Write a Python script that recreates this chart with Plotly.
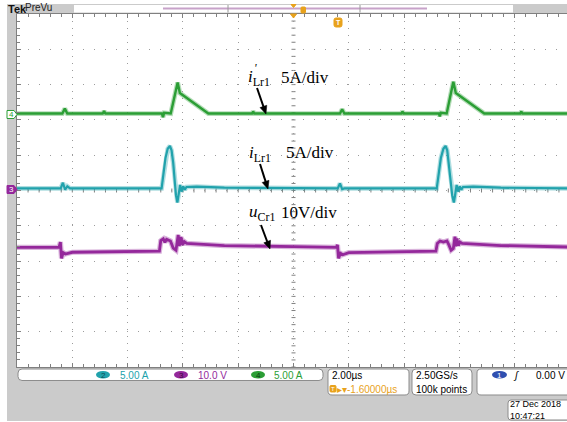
import math
import plotly.graph_objects as go

# ---------------- acquisition data ----------------
# Timebase: 2 us/div, trigger at the screen centre (t = 0 us)
time_per_div = 2.0

# Vertical scale per division and trace position (divisions above screen centre)
ch4_scale, ch4_pos = 5.0, 2.18     # i'Lr1  (A/div)
ch2_scale, ch2_pos = 5.0, 0.06     # iLr1   (A/div)
ch3_scale, ch3_pos = 10.0, -1.66   # uCr1   (V/div)

# CH4 (green): i'Lr1 in A
t_ch4 = [-10.0, -8.36, -8.27, -8.18, -6.9, -6.85, -6.8, -4.76, -4.72, -4.68, -4.44,
         -4.19, -4.11, -3.08, -1.5, -1.46, -1.42, 1.68, 1.76, 1.84, 3.9, 3.94, 3.98,
         5.26, 5.29, 5.33, 5.54, 5.78, 5.87, 6.90, 8.2, 8.24, 8.28, 9.9]
i_ch4 = [0.0, 0.0, 0.7, 0.0, 0.0, 0.35, 0.0, 0.0, -0.5, 0.1, 0.0,
         4.4, 2.9, 0.0, 0.0, 0.3, 0.0, 0.0, 0.6, 0.0, 0.0, 0.3, 0.0,
         0.0, -0.4, 0.1, 0.0, 4.5, 2.9, 0.0, 0.0, 0.3, 0.0, 0.0]

# CH2 (cyan): iLr1 in A
t_ch2 = [-10.0, -8.42, -8.34, -8.26, -8.18, -8.08, -4.77, -4.70, -4.63, -4.55, -4.47,
         -4.41, -4.35, -4.29, -4.25, -4.20, -4.15, -4.10, -4.05, -3.99, -3.93, -3.87,
         -3.5, -2.5, 1.60, 1.68, 1.76, 1.84, 5.18, 5.25, 5.33, 5.42, 5.50, 5.56, 5.62,
         5.69, 5.74, 5.80, 5.85, 5.90, 5.95, 6.01, 6.07, 6.13, 6.5, 7.5, 9.9]
i_ch2 = [0.0, 0.0, 0.8, -0.2, 0.3, 0.0, 0.0, 2.2, 4.3, 5.6, 6.0,
         5.4, 3.6, 0.8, -1.0, -2.0, -0.8, 0.5, -0.45, 0.3, -0.2, 0.2,
         0.25, 0.1, 0.0, 0.7, -0.1, 0.0, 0.0, 2.2, 4.3, 5.6, 6.0, 5.4, 3.6,
         0.8, -1.0, -2.0, -0.8, 0.5, -0.45, 0.3, -0.2, 0.2, 0.25, 0.1, 0.0]

# CH3 (purple): uCr1 in V
t_ch3 = [-10.0, -8.48, -8.43, -8.39, -8.33, -8.25, -8.0, -6.0, -4.85, -4.80, -4.71,
         -4.65, -4.59, -4.45, -4.35, -4.25, -4.17, -4.13, -4.07, -4.01, -3.95, -3.86,
         -2.5, 0.0, 1.55, 1.59, 1.63, 1.70, 1.78, 2.0, 4.0, 5.15, 5.20, 5.30, 5.42,
         5.55, 5.62, 5.70, 5.78, 5.84, 5.87, 5.91, 5.96, 6.02, 6.10, 7.5, 9.9]
u_ch3 = [0.5, 0.5, 2.0, -2.6, -1.0, -1.4, -0.9, -0.7, -0.6, 2.4, 2.9,
         1.9, 2.8, 2.3, 0.3, -0.3, 4.0, 0.9, 3.4, 1.2, 2.1, 1.6,
         1.0, 0.7, 0.5, 1.2, -2.6, -1.2, -1.6, -1.0, -0.7, -0.6, 1.6, 2.3, 2.0,
         2.3, 1.2, -0.3, 0.2, 3.5, 0.8, 3.0, 1.0, 2.0, 1.6, 1.0, 0.6]

# Channel readouts
readout_ch2 = "5.00 A"
readout_ch3 = "10.0 V"
readout_ch4 = "5.00 A"
readout_timebase = "2.00µs"
readout_delay = "▸▾-1.60000µs"
readout_rate = "2.50GS/s"
readout_points = "100k points"
readout_trigger = "0.00 V"
readout_date = "27 Dec 2018"
readout_time = "10:47:21"

# ---------------- screen geometry ----------------
W, H = 567, 422
ML, MR, MT, MB = 17, 0, 14, 55
PW, PH = W - ML - MR, H - MT - MB
div_px = 55.3                      # horizontal pixels per division
vdiv_px = PH / 10.0                # vertical pixels per division
x_lo = -5 * time_per_div
x_hi = x_lo + PW / div_px * time_per_div

GREEN = "#2b9e35"
CYAN = "#21a2ac"
PURPLE = "#94289b"
ORANGE = "#e8a21c"
PANEL = "#cbcbcb"
GRID = "#9c9c9c"
EDGE = "#808080"


def px(x):
    return (x - ML) / PW


def py(y):
    return (H - MB - y) / PH


def rbox(x0, y0, x1, y1, r=3.0):
    pts = [("M", x0 + r, y0), ("L", x1 - r, y0), ("Q", x1, y0, x1, y0 + r),
           ("L", x1, y1 - r), ("Q", x1, y1, x1 - r, y1), ("L", x0 + r, y1),
           ("Q", x0, y1, x0, y1 - r), ("L", x0, y0 + r), ("Q", x0, y0, x0 + r, y0)]
    out = []
    for p in pts:
        cmd, vals = p[0], p[1:]
        coords = []
        for i in range(0, len(vals), 2):
            coords.append(f"{px(vals[i]):.5f},{py(vals[i + 1]):.5f}")
        out.append(cmd + " " + " ".join(coords))
    return " ".join(out) + " Z"


def poly(points):
    return "M " + " L ".join(f"{px(a):.5f},{py(b):.5f}" for a, b in points) + " Z"


fig = go.Figure()

# waveforms, each on its own channel axis; a faint wider stroke underneath
# gives the persistence "glow" of the scope display
channels = [(t_ch4, i_ch4, "y2", GREEN, 2.4),
            (t_ch2, i_ch2, "y3", CYAN, 2.2),
            (t_ch3, u_ch3, "y4", PURPLE, 2.8)]
for t, v, ya, col, w in channels:
    fig.add_trace(go.Scatter(x=t, y=v, mode="lines", yaxis=ya, opacity=0.35,
                             line=dict(color=col, width=w + 2.4), hoverinfo="skip"))
    fig.add_trace(go.Scatter(x=t, y=v, mode="lines", yaxis=ya,
                             line=dict(color=col, width=w), hoverinfo="skip"))


def chan_axis(scale, pos):
    return dict(overlaying="y", visible=False, anchor="x",
                range=[(-5 - pos) * scale, (5 - pos) * scale])


fig.update_layout(
    width=W, height=H, autosize=False, template="none",
    margin=dict(l=ML, r=MR, t=MT, b=MB, pad=0),
    paper_bgcolor="white", plot_bgcolor="white", showlegend=False,
    xaxis=dict(range=[x_lo, x_hi], dtick=time_per_div, tick0=0,
               showgrid=True, gridcolor=GRID, gridwidth=1, griddash="1px,6px",
               zeroline=False, showline=True, linecolor=EDGE, linewidth=1, mirror="ticks",
               ticks="inside", ticklen=4, tickcolor=EDGE, showticklabels=False,
               minor=dict(dtick=time_per_div / 5, ticks="inside", ticklen=3,
                          tickcolor=EDGE, showgrid=False)),
    yaxis=dict(range=[-5, 5], dtick=1, tick0=0,
               showgrid=True, gridcolor=GRID, gridwidth=1, griddash="1px,10px",
               zeroline=False, showline=True, linecolor=EDGE, linewidth=1,
               ticks="inside", ticklen=4, tickcolor=EDGE, showticklabels=False,
               minor=dict(dtick=0.2, ticks="inside", ticklen=3, tickcolor=EDGE,
                          showgrid=False)),
    yaxis2=chan_axis(ch4_scale, ch4_pos),
    yaxis3=chan_axis(ch2_scale, ch2_pos),
    yaxis4=chan_axis(ch3_scale, ch3_pos),
)

shapes = []


def rect(x0, y0, x1, y1, fill, line_color=None, lw=0, layer="below"):
    shapes.append(dict(type="rect", xref="paper", yref="paper",
                       x0=px(x0), x1=px(x1), y0=py(y1), y1=py(y0),
                       fillcolor=fill, line=dict(width=lw, color=line_color or fill),
                       layer=layer))


def seg(x0, y0, x1, y1, color, lw=1):
    shapes.append(dict(type="line", xref="paper", yref="paper",
                       x0=px(x0), x1=px(x1), y0=py(y0), y1=py(y1),
                       line=dict(color=color, width=lw), layer="above"))


def path(d, fill, line_color, lw=1):
    shapes.append(dict(type="path", xref="paper", yref="paper", path=d,
                       fillcolor=fill, line=dict(color=line_color, width=lw),
                       layer="above"))


def oval(x0, y0, x1, y1, fill):
    shapes.append(dict(type="circle", xref="paper", yref="paper",
                       x0=px(x0), x1=px(x1), y0=py(y1), y1=py(y0),
                       fillcolor=fill, line=dict(width=0), layer="above"))


def arrow(xt, yt, xh, yh, head_len=8.0, head_half=3.6):
    dx, dy = xh - xt, yh - yt
    n = math.hypot(dx, dy)
    ux, uy = dx / n, dy / n
    bx, by = xh - head_len * ux, yh - head_len * uy
    seg(xt, yt, bx + 0.5 * ux, by + 0.5 * uy, "black", 2)
    path(poly([(xh, yh), (bx - head_half * uy, by + head_half * ux),
               (bx + head_half * uy, by - head_half * ux)]), "black", "black", 0.5)


# centre crosshair: short cross ticks every fifth of a division
tick_half_t = 2.0 / div_px * time_per_div     # 2 px expressed in us
tick_half_d = 2.0 / vdiv_px                   # 2 px expressed in divisions
for k in range(-25, 26):
    t = k * time_per_div / 5
    if x_lo < t < x_hi:
        shapes.append(dict(type="line", xref="x", yref="y", x0=t, x1=t,
                           y0=-tick_half_d, y1=tick_half_d,
                           line=dict(color=EDGE, width=1), layer="below"))
for k in range(-25, 26):
    d = k / 5
    shapes.append(dict(type="line", xref="x", yref="y", x0=-tick_half_t, x1=tick_half_t,
                       y0=d, y1=d, line=dict(color=EDGE, width=1), layer="below"))

# instrument frame
rect(7, 4, 17, 421, PANEL)
rect(7, 4, 567, 13.5, PANEL)
rect(7, 367.5, 567, 421, PANEL)
rect(74, 5, 513, 12.5, "white", layer="above")
seg(163, 8.5, 427, 8.5, "#c7a2c9", 2)
seg(228, 5, 228, 12.5, "#9a9a9a", 1)
seg(360, 5, 360, 12.5, "#9a9a9a", 1)

# trigger markers
path(poly([(291, 4.5), (296, 4.5), (293.5, 7.5)]), ORANGE, ORANGE, 1)
path(poly([(290.5, 14), (296.5, 14), (293.5, 18)]), ORANGE, ORANGE, 1)
path(rbox(301, 7, 305.5, 13, 1), ORANGE, ORANGE, 1)
path(rbox(334, 18, 342, 27, 2), ORANGE, ORANGE, 1)

# channel ground markers
path(poly([(7, 110.5), (14, 110.5), (17, 114.5), (14, 118.5), (7, 118.5)]),
     "white", GREEN, 1)
path(poly([(7, 185.5), (14, 185.5), (17, 189.5), (14, 193.5), (7, 193.5)]),
     PURPLE, PURPLE, 1)

# readout boxes
path(rbox(18, 369, 323, 380.5, 4), "white", "#8c8c8c", 1)
path(rbox(328, 369, 409, 395, 4), "white", "#8c8c8c", 1)
path(rbox(412, 369, 472, 395, 4), "white", "#8c8c8c", 1)
path(rbox(477, 369, 580, 395, 4), "white", "#8c8c8c", 1)
path(rbox(508, 400, 580, 420, 3), "white", "#8c8c8c", 1)
oval(96, 371, 110, 378.5, CYAN)
oval(174, 371, 188, 378.5, PURPLE)
oval(251, 371, 265, 378.5, GREEN)
oval(492, 371, 507, 378.5, "#2f4fb0")
path(rbox(330, 385.5, 336, 392, 1), ORANGE, ORANGE, 1)

# caption pointers
arrow(257, 88, 266, 114)
arrow(260, 164, 268, 189)
arrow(261, 225, 270, 249)

fig.update_layout(shapes=shapes)

annots = []


def note(x, y, text, size=10, color="black", xanchor="left",
         family="Liberation Sans, Arial, sans-serif", yanchor="middle"):
    annots.append(dict(xref="paper", yref="paper", x=px(x), y=py(y), text=text,
                       showarrow=False, xanchor=xanchor, yanchor=yanchor,
                       borderpad=0,
                       font=dict(size=size, color=color, family=family)))


# header
note(6.5, 8.5, "<b>Tek</b>", 11, "#111111")
note(24, 8, "PreVu", 10, "#222222")
note(338, 22.8, "<b>T</b>", 7, "white", "center")

# channel ground labels
note(11, 114.5, "4", 8, GREEN, "center")
note(11, 189.5, "3", 8, "white", "center")

# waveform captions
SERIF = "Liberation Serif, Times New Roman, serif"
note(247, 78, "<i>i</i><sub>Lr1</sub>", 17, "black", family=SERIF)
note(253, 68, "<i>'</i>", 12, "black", family=SERIF)
note(280, 77, "5A/div", 17, "black", family=SERIF)
note(248, 154, "<i>i</i><sub>Lr1</sub>", 17, "black", family=SERIF)
note(285, 153, "5A/div", 17, "black", family=SERIF)
note(248, 213, "<i>u</i><sub>Cr1</sub>", 17, "black", family=SERIF)
note(280, 212, "10V/div", 17, "black", family=SERIF)

# readouts
note(103, 375, "2", 8, "#0b4f55", "center")
note(181, 375, "3", 8, "#3a0a3d", "center")
note(258, 375, "4", 8, "#0c3a10", "center")
note(499.5, 375, "1", 8, "white", "center")
note(119, 375, readout_ch2, 10, CYAN)
note(197, 375, readout_ch3, 10, PURPLE)
note(273, 375, readout_ch4, 10, GREEN)
note(331, 375, readout_timebase, 10, "black")
note(333, 389, "T", 6, "white", "center")
note(336, 389, readout_delay, 10, ORANGE)
note(415, 375, readout_rate, 10, "black")
note(415, 389, readout_points, 10, "black")
note(516, 375, "<i>ʃ</i>", 10, "black", "center")
note(566, 375, readout_trigger, 10, "black", "right")
note(509, 410, readout_date, 9, "black", yanchor="bottom")
note(509, 410, readout_time, 9, "black", yanchor="top")

fig.update_layout(annotations=annots)

fig.write_html("out.html")
